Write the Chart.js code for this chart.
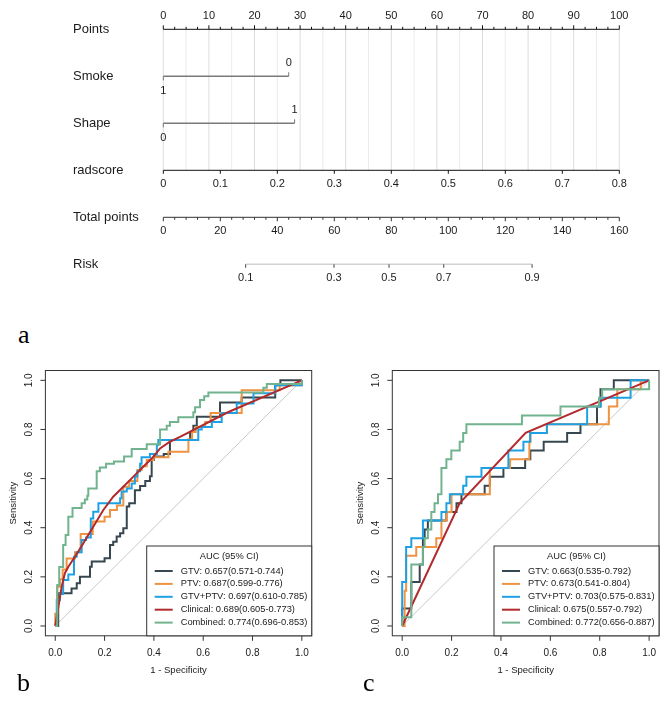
<!DOCTYPE html>
<html>
<head>
<meta charset="utf-8">
<script src="https://cdn.jsdelivr.net/npm/chart.js@4.4.0/dist/chart.umd.min.js"></script>
<style>
body { margin: 0; background: #fff; }
#page { position: relative; width: 669px; height: 701px; overflow: hidden; background: #fff; }
#page canvas { position: absolute; }
.tag { position: absolute; font-family: "Liberation Serif", "DejaVu Serif", serif; font-size: 26px; line-height: 1; color: #000; }
</style>
</head>
<body>
<div id="page">
  <canvas id="nomo" width="669" height="300" style="left:0;top:0"></canvas>
  <canvas id="rocB" width="330" height="330" style="left:0;top:360px"></canvas>
  <canvas id="rocC" width="322" height="330" style="left:347px;top:360px"></canvas>
  <div class="tag" style="left:18px;top:322px">a</div>
  <div class="tag" style="left:17px;top:670px">b</div>
  <div class="tag" style="left:363px;top:670px">c</div>
</div>
<script>
// ---- nomogram data ----
var rowLabels = ['Points', 'Smoke', 'Shape', 'radscore', 'Total points', 'Risk'];
var pointsTicks = [0, 10, 20, 30, 40, 50, 60, 70, 80, 90, 100];
var smokeLevels = ['1', '0'];
var smokePoints = [0, 27.5];
var shapeLevels = ['0', '1'];
var shapePoints = [0, 28.8];
var radscoreTicks = [0, 0.1, 0.2, 0.3, 0.4, 0.5, 0.6, 0.7, 0.8];
var radscoreLabels = ['0', '0.1', '0.2', '0.3', '0.4', '0.5', '0.6', '0.7', '0.8'];
var totalTicks = [0, 20, 40, 60, 80, 100, 120, 140, 160];
var riskLabels = ['0.1', '0.3', '0.5', '0.7', '0.9'];
var riskAtTotal = [28.9, 59.9, 79.2, 98.4, 129.4];

// ---- ROC data ----
var seriesNames = ['GTV', 'PTV', 'GTV+PTV', 'Clinical', 'Combined'];
var seriesColors = ['#37474f', '#ee9341', '#1ea1e4', '#b22a2c', '#72b38f'];
var axisTicks = [0, 0.2, 0.4, 0.6, 0.8, 1.0];
var axisTickLabels = ['0.0', '0.2', '0.4', '0.6', '0.8', '1.0'];

var aucB = ['0.657(0.571-0.744)', '0.687(0.599-0.776)', '0.697(0.610-0.785)', '0.689(0.605-0.773)', '0.774(0.696-0.853)'];
var aucC = ['0.663(0.535-0.792)', '0.673(0.541-0.804)', '0.703(0.575-0.831)', '0.675(0.557-0.792)', '0.772(0.656-0.887)'];

// training set (b)
var gtvFprB  = [0, 0.012, 0.066, 0.087, 0.10, 0.141, 0.148, 0.20, 0.222, 0.235, 0.249, 0.263, 0.276, 0.29, 0.30, 0.323, 0.344, 0.365, 0.384, 0.391, 0.40, 0.44, 0.465, 0.547, 0.56, 0.574, 0.668, 0.756, 0.892, 0.913, 1.0];
var gtvSensB = [0, 0.133, 0.153, 0.174, 0.20, 0.241, 0.262, 0.276, 0.33, 0.343, 0.364, 0.377, 0.398, 0.486, 0.50, 0.553, 0.57, 0.59, 0.61, 0.676, 0.69, 0.70, 0.757, 0.79, 0.815, 0.852, 0.91, 0.93, 0.98, 1.0, 1.0];
var ptvFprB  = [0, 0, 0.008, 0.019, 0.03, 0.046, 0.08, 0.103, 0.152, 0.20, 0.222, 0.25, 0.276, 0.30, 0.333, 0.35, 0.371, 0.398, 0.459, 0.54, 0.555, 0.57, 0.608, 0.63, 0.756, 0.91, 1.0];
var ptvSensB = [0, 0.05, 0.16, 0.19, 0.23, 0.275, 0.30, 0.374, 0.425, 0.445, 0.472, 0.49, 0.567, 0.59, 0.635, 0.65, 0.676, 0.687, 0.709, 0.76, 0.79, 0.81, 0.83, 0.867, 0.96, 0.98, 1.0];
var gpFprB   = [0, 0.006, 0.019, 0.032, 0.053, 0.076, 0.087, 0.107, 0.125, 0.144, 0.154, 0.175, 0.242, 0.263, 0.269, 0.29, 0.31, 0.323, 0.333, 0.344, 0.35, 0.384, 0.412, 0.418, 0.58, 0.594, 0.635, 0.675, 0.736, 0.804, 0.892, 1.0];
var gpSensB  = [0, 0.106, 0.13, 0.187, 0.21, 0.282, 0.30, 0.35, 0.36, 0.438, 0.465, 0.50, 0.50, 0.52, 0.547, 0.56, 0.58, 0.608, 0.63, 0.66, 0.687, 0.70, 0.737, 0.757, 0.80, 0.81, 0.83, 0.867, 0.906, 0.947, 0.98, 1.0];
var clinFprB  = [0, 0.026, 0.039, 0.053, 0.08, 0.114, 0.154, 0.195, 0.235, 0.276, 0.317, 0.357, 0.398, 0.425, 0.465, 0.506, 0.70, 1.0];
var clinSensB = [0, 0.16, 0.215, 0.241, 0.282, 0.337, 0.404, 0.472, 0.526, 0.567, 0.608, 0.648, 0.689, 0.723, 0.75, 0.77, 0.87, 1.0];
var cmbFprB  = [0, 0.008, 0.016, 0.032, 0.042, 0.053, 0.07, 0.107, 0.12, 0.13, 0.134, 0.168, 0.181, 0.206, 0.238, 0.279, 0.31, 0.371, 0.425, 0.452, 0.465, 0.499, 0.56, 0.567, 0.587, 0.604, 0.621, 0.844, 0.858, 1.0];
var cmbSensB = [0, 0.167, 0.24, 0.33, 0.37, 0.445, 0.48, 0.50, 0.515, 0.53, 0.56, 0.63, 0.645, 0.66, 0.67, 0.69, 0.72, 0.74, 0.80, 0.815, 0.83, 0.85, 0.87, 0.89, 0.92, 0.935, 0.95, 0.97, 0.985, 1.0];

// validation set (c)
var gtvFprC  = [0, 0, 0.037, 0.071, 0.084, 0.091, 0.104, 0.179, 0.22, 0.24, 0.334, 0.355, 0.41, 0.498, 0.519, 0.573, 0.668, 0.722, 0.789, 0.803, 0.857, 1.0];
var gtvSensC = [0, 0.071, 0.179, 0.25, 0.357, 0.393, 0.429, 0.464, 0.50, 0.536, 0.571, 0.607, 0.643, 0.679, 0.714, 0.75, 0.786, 0.821, 0.893, 0.964, 1.0, 1.0];
var ptvFprC  = [0, 0.01, 0.016, 0.057, 0.138, 0.159, 0.18, 0.20, 0.355, 0.437, 0.515, 0.52, 0.586, 0.837, 0.871, 0.966, 1.0];
var ptvSensC = [0, 0.143, 0.286, 0.321, 0.357, 0.429, 0.464, 0.536, 0.643, 0.679, 0.75, 0.786, 0.821, 0.893, 0.964, 1.0, 1.0];
var gpFprC   = [0, 0, 0.016, 0.037, 0.084, 0.159, 0.179, 0.193, 0.247, 0.26, 0.321, 0.43, 0.491, 0.518, 0.586, 0.749, 0.803, 0.925, 1.0];
var gpSensC  = [0, 0.179, 0.321, 0.357, 0.429, 0.464, 0.50, 0.536, 0.571, 0.607, 0.643, 0.714, 0.75, 0.786, 0.821, 0.893, 0.929, 1.0, 1.0];
var clinFprC  = [0, 0.233, 0.50, 1.0];
var clinSensC = [0, 0.50, 0.786, 1.0];
var cmbFprC  = [0, 0, 0.037, 0.084, 0.091, 0.104, 0.118, 0.131, 0.145, 0.159, 0.179, 0.199, 0.233, 0.247, 0.26, 0.485, 0.641, 0.797, 0.81, 1.0];
var cmbSensC = [0, 0.036, 0.25, 0.321, 0.357, 0.393, 0.464, 0.50, 0.536, 0.643, 0.679, 0.714, 0.75, 0.786, 0.821, 0.857, 0.893, 0.929, 0.964, 1.0];

var SANS = '"Liberation Sans", Arial, Helvetica, sans-serif';
var TEXT = '#1a1a1a';

function line(ctx, x1, y1, x2, y2) {
    ctx.beginPath();
    ctx.moveTo(x1, y1);
    ctx.lineTo(x2, y2);
    ctx.stroke();
}

// ---------------- nomogram ----------------
var nomoAxes = {
    id: 'nomoAxes',
    beforeDatasetsDraw: function(chart) {
        var ctx = chart.ctx, x = chart.scales.x, y = chart.scales.y;
        ctx.save();
        ctx.lineWidth = 1;
        //vertical reference lines every 5 points, Points row down to radscore row
        for (var p = 0; p <= 100; p += 5) {
            var px = x.getPixelForValue(p);
            ctx.strokeStyle = (p % 10 === 0) ? '#dcdcdc' : '#ececec';
            line(ctx, px, y.getPixelForValue(0), px, y.getPixelForValue(3));
        }
        ctx.restore();
    },
    afterDatasetsDraw: function(chart) {
        var ctx = chart.ctx, s = chart.scales;
        var x = s.x, xr = s.xr, xt = s.xt, y = s.y;
        ctx.save();
        ctx.fillStyle = TEXT;
        ctx.textBaseline = 'middle';

        //row labels
        ctx.font = '13px ' + SANS;
        ctx.textAlign = 'left';
        rowLabels.forEach(function(lbl, i) {
            ctx.fillText(lbl, 73, y.getPixelForValue(i) + 0.5);
        });

        ctx.font = '11px ' + SANS;
        ctx.textAlign = 'center';
        ctx.lineWidth = 1;

        //Points axis: ticks up, labels above
        var y0 = y.getPixelForValue(0);
        ctx.strokeStyle = '#111';
        line(ctx, x.getPixelForValue(0), y0, x.getPixelForValue(100), y0);
        for (var p = 0; p <= 100; p += 2.5) {
            var px = x.getPixelForValue(p);
            line(ctx, px, y0, px, y0 - (p % 10 === 0 ? 4 : 2.5));
        }
        pointsTicks.forEach(function(v) {
            ctx.fillText(String(v), x.getPixelForValue(v), y0 - 13);
        });

        //Smoke and Shape level labels (first below, second above)
        [[smokeLevels, smokePoints, 1], [shapeLevels, shapePoints, 2]].forEach(function(row) {
            var yy = y.getPixelForValue(row[2]);
            ctx.strokeStyle = '#7a7a7a';
            row[0].forEach(function(lbl, i) {
                var px = x.getPixelForValue(row[1][i]);
                var up = i % 2 === 1;
                line(ctx, px, yy, px, up ? yy - 4 : yy + 4);
                ctx.fillText(lbl, px, up ? yy - 13.5 : yy + 14.5);
            });
        });

        //radscore axis
        var y3 = y.getPixelForValue(3);
        ctx.strokeStyle = '#111';
        line(ctx, xr.getPixelForValue(0), y3, xr.getPixelForValue(0.8), y3);
        radscoreTicks.forEach(function(v, i) {
            var px = xr.getPixelForValue(v);
            line(ctx, px, y3, px, y3 + 3.5);
            ctx.fillText(radscoreLabels[i], px, y3 + 14);
        });

        //Total points axis
        var y4 = y.getPixelForValue(4);
        ctx.strokeStyle = '#333';
        line(ctx, xt.getPixelForValue(0), y4, xt.getPixelForValue(160), y4);
        for (var t = 0; t <= 160; t += 4) {
            var tx = xt.getPixelForValue(t);
            line(ctx, tx, y4, tx, y4 + (t % 20 === 0 ? 4 : 2.5));
        }
        totalTicks.forEach(function(v) {
            ctx.fillText(String(v), xt.getPixelForValue(v), y4 + 14);
        });

        //Risk axis (placed on the total points scale)
        var y5 = y.getPixelForValue(5);
        ctx.strokeStyle = '#d2d2d2';
        ctx.lineWidth = 1.5;
        line(ctx, xt.getPixelForValue(riskAtTotal[0]), y5, xt.getPixelForValue(riskAtTotal[riskAtTotal.length - 1]), y5);
        ctx.lineWidth = 1;
        ctx.strokeStyle = '#444';
        riskLabels.forEach(function(lbl, i) {
            var px = xt.getPixelForValue(riskAtTotal[i]);
            line(ctx, px, y5, px, y5 + 3.5);
            ctx.fillText(lbl, px, y5 + 13.5);
        });
        ctx.restore();
    }
};

function levelLine(points, row) {
    return points.map(function(p) { return {x: p, y: row}; });
}

new Chart(document.getElementById('nomo'), {
    type: 'scatter',
    data: {
        datasets: [
            {label: 'Smoke', data: levelLine(smokePoints, 1), showLine: true, borderColor: '#7a7a7a', borderWidth: 1.5, pointRadius: 0, clip: false},
            {label: 'Shape', data: levelLine(shapePoints, 2), showLine: true, borderColor: '#7a7a7a', borderWidth: 1.5, pointRadius: 0, clip: false}
        ]
    },
    options: {
        responsive: false,
        animation: false,
        layout: {padding: {left: 163.3, right: 49.7, top: 29.3, bottom: 35.7}},
        scales: {
            x: {type: 'linear', min: 0, max: 100, display: false},
            xr: {type: 'linear', axis: 'x', min: 0, max: 0.8, display: false},
            xt: {type: 'linear', axis: 'x', min: 0, max: 160, display: false},
            y: {type: 'linear', min: 0, max: 5, reverse: true, display: false}
        },
        plugins: {legend: {display: false}, tooltip: {enabled: false}}
    },
    plugins: [nomoAxes]
});

// ---------------- ROC curves ----------------
var rocFrame = {
    id: 'rocFrame',
    afterDraw: function(chart, args, opts) {
        var ctx = chart.ctx, a = chart.chartArea, x = chart.scales.x, y = chart.scales.y;
        ctx.save();
        ctx.strokeStyle = '#333';
        ctx.lineWidth = 1;
        ctx.strokeRect(a.left, a.top, a.right - a.left, a.bottom - a.top);

        ctx.fillStyle = TEXT;
        ctx.font = '10px ' + SANS;
        ctx.textAlign = 'center';
        ctx.textBaseline = 'middle';
        axisTicks.forEach(function(v, i) {
            var px = x.getPixelForValue(v);
            line(ctx, px, a.bottom, px, a.bottom + 5);
            ctx.fillText(axisTickLabels[i], px, a.bottom + 17);
            var py = y.getPixelForValue(v);
            line(ctx, a.left, py, a.left - 5, py);
            ctx.save();
            ctx.translate(a.left - 16, py);
            ctx.rotate(-Math.PI / 2);
            ctx.fillText(axisTickLabels[i], 0, 0);
            ctx.restore();
        });

        //axis titles
        ctx.font = '9.5px ' + SANS;
        ctx.fillText('1 - Specificity', (a.left + a.right) / 2, a.bottom + 34.2);
        ctx.save();
        ctx.translate(a.left - 32, (a.top + a.bottom) / 2);
        ctx.rotate(-Math.PI / 2);
        ctx.fillText('Sensitivity', 0, 0);
        ctx.restore();

        //legend box
        var lx = a.right - 165, ly = a.bottom - 89.8;
        ctx.fillStyle = '#fff';
        ctx.fillRect(lx, ly, a.right - lx, a.bottom - ly);
        ctx.strokeRect(lx, ly, a.right - lx, a.bottom - ly);
        ctx.fillStyle = TEXT;
        ctx.font = '9.3px ' + SANS;
        ctx.fillText('AUC (95% CI)', lx + 82.5, ly + 10.7);
        ctx.textAlign = 'left';
        opts.auc.forEach(function(txt, i) {
            var ry = ly + 25 + i * 12.9;
            ctx.strokeStyle = seriesColors[i];
            ctx.lineWidth = 2;
            line(ctx, lx + 8, ry, lx + 26, ry);
            ctx.fillText(seriesNames[i] + ': ' + txt, lx + 34, ry);
        });
        ctx.restore();
    }
};

function curve(fpr, sens) {
    return fpr.map(function(v, i) { return {x: v, y: sens[i]}; });
}

function drawRoc(id, fprs, senss, auc, pad) {
    var datasets = [{
        label: 'chance', data: [{x: 0, y: 0}, {x: 1, y: 1}],
        borderColor: '#c8c8c8', borderWidth: 1, pointRadius: 0, order: 10
    }];
    seriesNames.forEach(function(name, i) {
        datasets.push({
            label: name,
            data: curve(fprs[i], senss[i]),
            borderColor: seriesColors[i],
            borderWidth: 2,
            pointRadius: 0,
            //empirical curves: move right at the old sensitivity, then rise
            stepped: name === 'Clinical' ? false : 'before',
            tension: 0,
            order: 5 - i
        });
    });
    new Chart(document.getElementById(id), {
        type: 'line',
        data: {datasets: datasets},
        options: {
            responsive: false,
            animation: false,
            layout: {padding: pad},
            scales: {
                x: {type: 'linear', min: -0.04, max: 1.04, display: false},
                y: {type: 'linear', min: -0.04, max: 1.04, display: false}
            },
            plugins: {legend: {display: false}, tooltip: {enabled: false}, rocFrame: {auc: auc}}
        },
        plugins: [rocFrame]
    });
}

drawRoc('rocB',
    [gtvFprB, ptvFprB, gpFprB, clinFprB, cmbFprB],
    [gtvSensB, ptvSensB, gpSensB, clinSensB, cmbSensB],
    aucB, {left: 45.4, right: 18.3, top: 10.5, bottom: 54.2});

drawRoc('rocC',
    [gtvFprC, ptvFprC, gpFprC, clinFprC, cmbFprC],
    [gtvSensC, ptvSensC, gpSensC, clinSensC, cmbSensC],
    aucC, {left: 45.3, right: 10, top: 10.5, bottom: 54.2});
</script>
</body>
</html>
